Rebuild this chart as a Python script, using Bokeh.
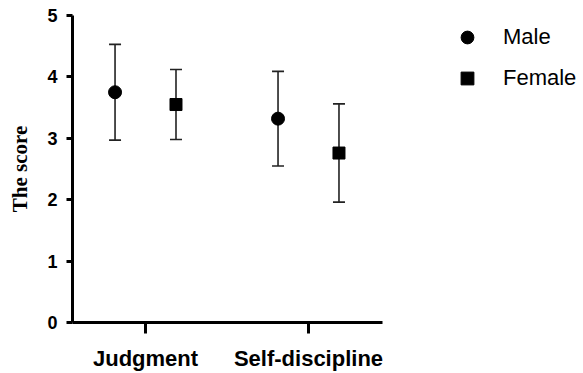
from bokeh.plotting import figure
from bokeh.models import Range1d, ColumnDataSource, Whisker, TeeHead, Legend, LegendItem, FixedTicker
from bokeh.embed import file_html
from bokeh.resources import INLINE

categories = ["Judgment", "Self-discipline"]
cat_pos = [1, 2]
male_mean = [3.75, 3.32]
male_sd = [0.78, 0.77]
female_mean = [3.55, 2.76]
female_sd = [0.57, 0.80]
y_ticks = [0, 1, 2, 3, 4, 5]
offset = 0.187

def src(means, sds, shift):
    return ColumnDataSource(dict(
        x=[c + shift for c in cat_pos],
        y=means,
        upper=[m + s for m, s in zip(means, sds)],
        lower=[m - s for m, s in zip(means, sds)],
    ))

sm = src(male_mean, male_sd, -offset)
sf = src(female_mean, female_sd, offset)

p = figure(frame_width=310, frame_height=307, output_backend="svg", toolbar_location=None,
           x_range=Range1d(0.552, 2.454), y_range=Range1d(0, 5),
           min_border_left=72, min_border_top=15, min_border_right=201, min_border_bottom=51)
p.outline_line_color = None
p.xgrid.visible = False
p.ygrid.visible = False
p.background_fill_color = "white"
p.border_fill_color = "white"

for s in (sm, sf):
    w = Whisker(source=s, base="x", upper="upper", lower="lower", dimension="height",
                line_color="#222222", line_width=1.6, level="underlay",
                upper_head=TeeHead(size=12, line_color="#222222", line_width=1.6),
                lower_head=TeeHead(size=12, line_color="#222222", line_width=1.6))
    p.add_layout(w)

rm = p.scatter("x", "y", source=sm, marker="circle", size=13, color="black")
rf = p.scatter("x", "y", source=sf, marker="square", size=12, color="black")

legend = Legend(items=[LegendItem(label="Male", renderers=[rm]),
                       LegendItem(label="Female", renderers=[rf])],
                location=(69, 228), margin=0, padding=0, spacing=9,
                glyph_width=32, glyph_height=32, label_standoff=20,
                label_text_font="Liberation Sans", label_text_font_size="22px",
                label_text_color="black", border_line_color=None, background_fill_alpha=0)
p.add_layout(legend, "right")

for ax in (p.xaxis[0], p.yaxis[0]):
    ax.axis_line_width = 3
    ax.axis_line_color = "black"
    ax.major_tick_line_width = 3
    ax.major_tick_line_color = "black"
    ax.minor_tick_line_color = None
    ax.major_tick_in = 0
    ax.major_label_text_font = "Liberation Sans"
    ax.major_label_text_font_style = "bold"
    ax.major_label_text_color = "black"

xa = p.xaxis[0]
xa.ticker = FixedTicker(ticks=cat_pos)
xa.major_label_overrides = {c: l for c, l in zip(cat_pos, categories)}
xa.major_tick_out = 11
xa.major_label_standoff = 12
xa.major_label_text_font_size = "22px"

ya = p.yaxis[0]
ya.ticker = FixedTicker(ticks=y_ticks)
ya.major_tick_out = 6
ya.major_label_standoff = 9
ya.major_label_text_font_size = "18px"
ya.axis_label = "The score"
ya.axis_label_text_font = "Liberation Serif"
ya.axis_label_text_font_style = "bold"
ya.axis_label_text_font_size = "21px"
ya.axis_label_text_color = "black"
ya.axis_label_standoff = 12

open("out.html", "w").write(file_html(p, INLINE))
